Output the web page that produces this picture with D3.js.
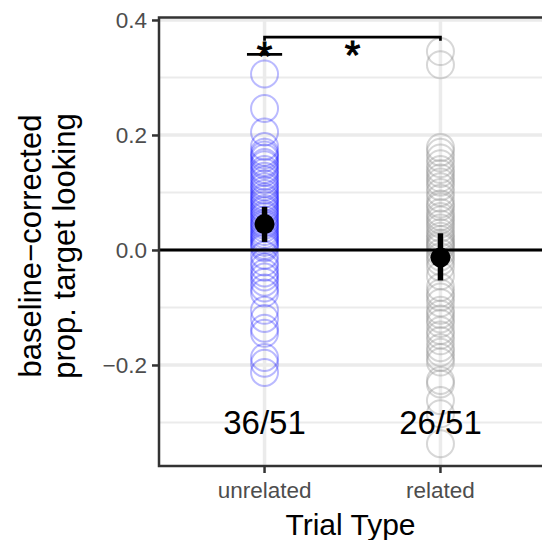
<!DOCTYPE html>
<html>
<head>
<meta charset="utf-8">
<script src="https://cdn.jsdelivr.net/npm/d3@7.9.0/dist/d3.min.js"></script>
<style>
  body { margin: 0; background: #fff; }
  svg { display: block; font-family: 'Liberation Sans', Arial, sans-serif; }
</style>
</head>
<body>
<svg id="chart" width="542" height="540"></svg>
<script>
const categories = ['unrelated', 'related'];

// per-participant baseline-corrected scores
const unrelatedValues = [
  0.306, 0.246, 0.205, 0.180, 0.170, 0.165, 0.160, 0.152, 0.148, 0.140,
  0.135, 0.128, 0.122, 0.115, 0.110, 0.104, 0.098, 0.092, 0.088, 0.083,
  0.078, 0.072, 0.068, 0.062, 0.058, 0.052, 0.047, 0.043, 0.038, 0.032,
  0.027, 0.022, 0.018, 0.013, 0.008, 0.004,
  -0.009, -0.021, -0.030, -0.040, -0.047, -0.056, -0.066, -0.075, -0.105, -0.119,
  -0.136, -0.145, -0.187, -0.197, -0.213,
];
const relatedValues = [
  0.345, 0.322, 0.178, 0.170, 0.160, 0.150, 0.140, 0.133, 0.125, 0.118,
  0.110, 0.100, 0.090, 0.080, 0.075, 0.065, 0.058, 0.052, 0.045, 0.038,
  0.030, 0.024, 0.018, 0.012, 0.008, 0.004,
  -0.005, -0.012, -0.020, -0.030, -0.045, -0.065, -0.075, -0.082, -0.092, -0.105,
  -0.112, -0.120, -0.128, -0.140, -0.148, -0.158, -0.170, -0.178, -0.187, -0.195,
  -0.227, -0.233, -0.262, -0.285, -0.337,
];

const means = [0.045, -0.013];
const ciLow = [0.014, -0.053];
const ciHigh = [0.075, 0.029];
const counts = ['36/51', '26/51'];
const pointColors = ['#0000ff', '#8c8c8c'];
const pointOpacity = [0.27, 0.35];

const yTicks = [-0.2, 0.0, 0.2, 0.4];
const yMinorTicks = [-0.3, -0.1, 0.1, 0.3];

// significance marks (x in category units, 1 = unrelated, 2 = related)
const sigLines = [
  { x1: 0.9, x2: 1.1, y: 0.34, drop: 0 },
  { x1: 1, x2: 2, y: 0.37, drop: 0.006 },
];
const sigStars = [
  { x: 1, y: 0.353 },
  { x: 1.5, y: 0.355 },
];

const panel = { left: 159, right: 546, top: 17.5, bottom: 466 };

const svg = d3.select('#chart');

const x = d3.scaleLinear().domain([0.4, 2.6]).range([panel.left, panel.right]);
const y = d3.scaleLinear().domain([-0.3757, 0.4043]).range([panel.bottom, panel.top]);

// grid
const grid = svg.append('g');
grid.selectAll('.minor')
  .data(yMinorTicks)
  .join('line')
  .attr('x1', panel.left).attr('x2', panel.right)
  .attr('y1', (d) => y(d)).attr('y2', (d) => y(d))
  .attr('stroke', '#ebebeb').attr('stroke-width', 2);
grid.selectAll('.major')
  .data(yTicks)
  .join('line')
  .attr('x1', panel.left).attr('x2', panel.right)
  .attr('y1', (d) => y(d)).attr('y2', (d) => y(d))
  .attr('stroke', '#ebebeb').attr('stroke-width', 3.5);
grid.selectAll('.vmajor')
  .data(categories)
  .join('line')
  .attr('x1', (d, i) => x(i + 1)).attr('x2', (d, i) => x(i + 1))
  .attr('y1', panel.top).attr('y2', panel.bottom)
  .attr('stroke', '#ebebeb').attr('stroke-width', 3.5);

// individual points
const groups = [unrelatedValues, relatedValues];
groups.forEach((vals, i) => {
  svg.append('g')
    .selectAll('circle')
    .data(vals)
    .join('circle')
    .attr('cx', x(i + 1))
    .attr('cy', (d) => y(d))
    .attr('r', 13.5)
    .attr('fill', 'none')
    .attr('stroke', pointColors[i])
    .attr('stroke-opacity', pointOpacity[i])
    .attr('stroke-width', 2);
});

// zero line
svg.append('line')
  .attr('x1', panel.left).attr('x2', panel.right)
  .attr('y1', y(0)).attr('y2', y(0))
  .attr('stroke', '#000').attr('stroke-width', 3);

// means and CIs
svg.append('g')
  .selectAll('line')
  .data(categories)
  .join('line')
  .attr('x1', (d, i) => x(i + 1)).attr('x2', (d, i) => x(i + 1))
  .attr('y1', (d, i) => y(ciLow[i])).attr('y2', (d, i) => y(ciHigh[i]))
  .attr('stroke', '#000').attr('stroke-width', 5.5);
svg.append('g')
  .selectAll('circle')
  .data(categories)
  .join('circle')
  .attr('cx', (d, i) => x(i + 1))
  .attr('cy', (d, i) => y(means[i]))
  .attr('r', 10)
  .attr('fill', '#000');

// significance
svg.append('g')
  .selectAll('path')
  .data(sigLines)
  .join('path')
  .attr('d', (d) => {
    const p = d3.path();
    p.moveTo(x(d.x1), y(d.y - d.drop));
    p.lineTo(x(d.x1), y(d.y));
    p.lineTo(x(d.x2), y(d.y));
    p.lineTo(x(d.x2), y(d.y - d.drop));
    return p.toString();
  })
  .attr('fill', 'none')
  .attr('stroke', '#000')
  .attr('stroke-width', 2.7);
const starSize = 40;
svg.append('g')
  .selectAll('text')
  .data(sigStars)
  .join('text')
  .attr('x', (d) => x(d.x))
  .attr('y', (d) => y(d.y) + starSize * 0.57)
  .attr('text-anchor', 'middle')
  .attr('font-size', starSize)
  .attr('stroke', '#000')
  .attr('stroke-width', 1)
  .text('*');

// count labels
svg.append('g')
  .selectAll('text')
  .data(counts)
  .join('text')
  .attr('x', (d, i) => x(i + 1))
  .attr('y', y(-0.3) + 12)
  .attr('text-anchor', 'middle')
  .attr('font-size', 33)
  .attr('fill', '#000')
  .text((d) => d);

// panel border
svg.append('rect')
  .attr('x', panel.left).attr('y', panel.top)
  .attr('width', panel.right - panel.left)
  .attr('height', panel.bottom - panel.top)
  .attr('fill', 'none')
  .attr('stroke', '#333333')
  .attr('stroke-width', 2.5);

// y axis
const yAxis = svg.append('g')
  .attr('transform', `translate(${panel.left},0)`)
  .call(d3.axisLeft(y).tickValues(yTicks).tickSize(7).tickPadding(5)
    .tickFormat((d) => d3.format('.1f')(d).replace('-', '\u2212')));
yAxis.select('.domain').remove();
yAxis.selectAll('line').attr('stroke', '#333333').attr('stroke-width', 2.5);
yAxis.selectAll('text')
  .attr('font-size', 22.5)
  .attr('fill', '#4d4d4d')
  .attr('font-family', "'Liberation Sans', Arial, sans-serif");

// x axis
const xBand = d3.scaleOrdinal().domain(categories).range([x(1), x(2)]);
const xAxis = svg.append('g')
  .attr('transform', `translate(0,${panel.bottom})`);
xAxis.selectAll('line')
  .data(categories)
  .join('line')
  .attr('x1', (d) => xBand(d)).attr('x2', (d) => xBand(d))
  .attr('y1', 0).attr('y2', 7)
  .attr('stroke', '#333333').attr('stroke-width', 2.5);
xAxis.selectAll('text')
  .data(categories)
  .join('text')
  .attr('x', (d) => xBand(d))
  .attr('y', 32.3)
  .attr('text-anchor', 'middle')
  .attr('font-size', 22.5)
  .attr('fill', '#4d4d4d')
  .text((d) => d);

// axis titles
svg.append('text')
  .attr('x', (panel.left + panel.right) / 2 - 2)
  .attr('y', 535)
  .attr('text-anchor', 'middle')
  .attr('font-size', 30)
  .attr('fill', '#000')
  .text('Trial Type');

const yTitle = svg.append('text')
  .attr('transform', 'translate(0,246) rotate(-90)')
  .attr('text-anchor', 'middle')
  .attr('font-size', 31)
  .attr('fill', '#000');
yTitle.append('tspan').attr('x', 0).attr('y', 41).text('baseline\u2212corrected');
yTitle.append('tspan').attr('x', 0).attr('y', 75).text('prop. target looking');
</script>
</body>
</html>
